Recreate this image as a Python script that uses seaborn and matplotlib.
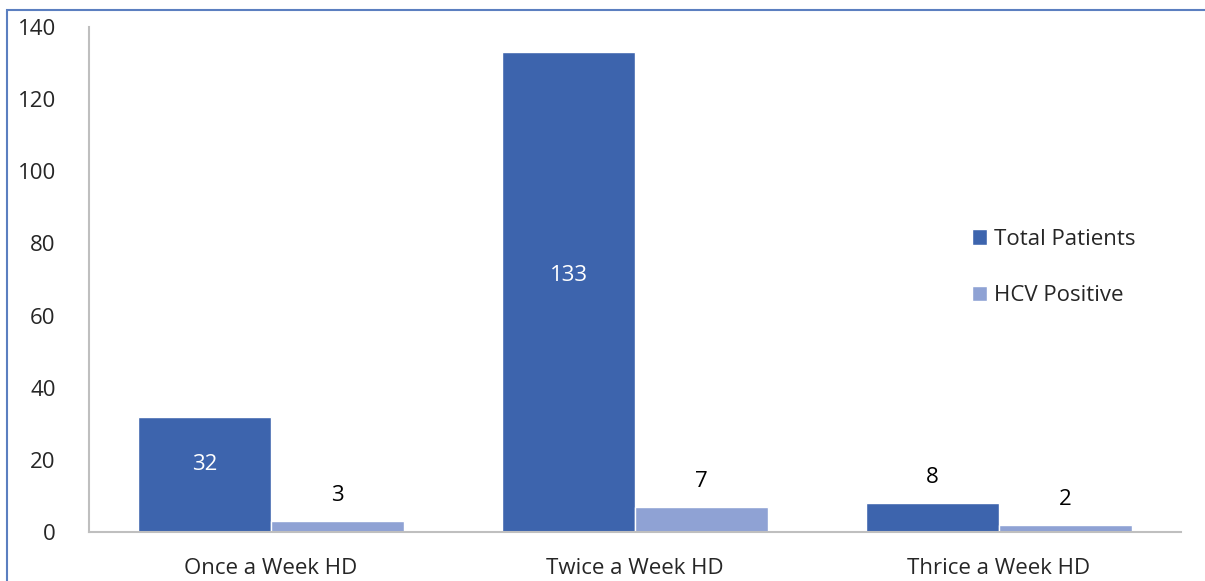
import seaborn as sns
import matplotlib.pyplot as plt
import pandas as pd
from matplotlib.patches import Rectangle

categories = ['Once a Week HD', 'Twice a Week HD', 'Thrice a Week HD']
total_patients = [32, 133, 8]
hcv_positive = [3, 7, 2]
series_names = ['Total Patients', 'HCV Positive']

df = pd.DataFrame({
    'group': categories * 2,
    'value': total_patients + hcv_positive,
    'series': [series_names[0]] * 3 + [series_names[1]] * 3,
})

sns.set_theme(style="white")
plt.rcParams['font.family'] = ['Open Sans', 'DejaVu Sans']

fig = plt.figure(figsize=(12.05, 5.81), dpi=100)
ax = fig.add_axes([0.0739, 0.0843, 0.9061, 0.8692])

palette = {'Total Patients': '#3D64AD', 'HCV Positive': '#8FA2D4'}
sns.barplot(data=df, x='group', y='value', hue='series', palette=palette,
            width=0.73, saturation=1, ax=ax, legend=True)

ax.set_ylim(0, 140)
ax.set_yticks(range(0, 141, 20))
ax.set_xlabel('')
ax.set_ylabel('')
ax.tick_params(axis='y', labelsize=16, pad=24, length=0)
ax.tick_params(axis='x', labelsize=16, pad=19, length=0)
for s in ['top', 'right']:
    ax.spines[s].set_visible(False)
for s in ['left', 'bottom']:
    ax.spines[s].set_color('#BFBFBF')
    ax.spines[s].set_linewidth(1.5)

# value labels: inside for tall bars, above for short ones
for cont in ax.containers:
    for bar in cont:
        h = bar.get_height()
        xc = bar.get_x() + bar.get_width() / 2
        if h > 20:
            ax.text(xc, h * 0.52 + 2, f'{int(h)}', ha='center', va='center',
                    color='white', fontsize=16)
        else:
            ax.text(xc, h + 7, f'{int(h)}', ha='center', va='center',
                    color='black', fontsize=16)

handles, labels = ax.get_legend_handles_labels()
ax.legend(handles, labels, loc='upper left', bbox_to_anchor=(0.79, 0.64),
          frameon=False, fontsize=16, handlelength=0.7, handleheight=0.7,
          handletextpad=0.3, labelspacing=1.6)

fig.patches.append(Rectangle((0.006, -0.05), 1.2, 1.05 - 10 / 581,
                             transform=fig.transFigure, fill=False,
                             edgecolor='#5B7FC0', linewidth=1.5))

fig.savefig('out.png', dpi=100)
